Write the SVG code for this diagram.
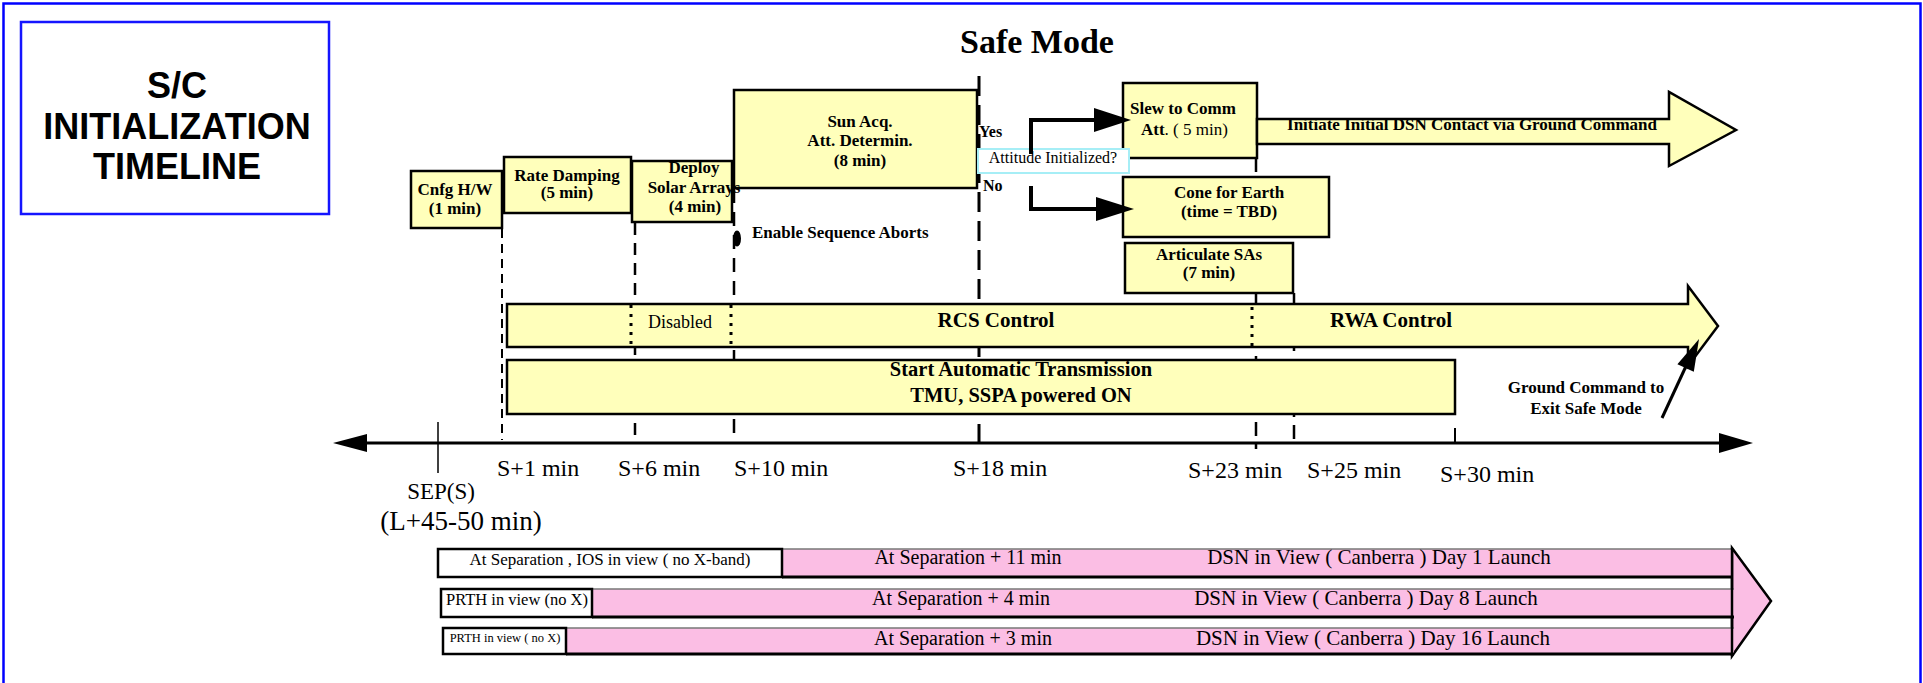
<svg xmlns="http://www.w3.org/2000/svg" width="1923" height="683" viewBox="0 0 1923 683">
<style>
.box{fill:#FFFFBB;stroke:#000;stroke-width:2.5}
.tb{font-family:"Liberation Serif",serif;font-weight:bold;font-size:17px;text-anchor:middle;fill:#000}
.tn{font-family:"Liberation Serif",serif;font-size:17px;text-anchor:middle;fill:#000}
.ax{font-family:"Liberation Serif",serif;font-size:24px;fill:#000}
.ttl{font-family:"Liberation Sans",Arial,sans-serif;font-weight:bold;font-size:36px;text-anchor:middle;fill:#000}
.dsh{stroke:#000;fill:none}
.dot{stroke:#000;stroke-width:3;stroke-dasharray:3 6;fill:none}
.pink{fill:#FBBEE4}
.wbox{fill:#fff;stroke:#000;stroke-width:2.5}
.con{stroke:#000;stroke-width:4;fill:none}
</style>
<rect width="1923" height="683" fill="#fff"/>
<rect x="3.5" y="3.5" width="1917" height="700" fill="none" stroke="#0000FF" stroke-width="2.5"/>

<g id="title">
<rect x="21" y="22" width="308" height="192" fill="#fff" stroke="#1515FF" stroke-width="2.5"/>
<text x="177" y="98" class="ttl">S/C</text>
<text x="177" y="139" class="ttl">INITIALIZATION</text>
<text x="177" y="179" class="ttl">TIMELINE</text>
</g>

<g id="safe-mode-title">
<text x="1037" y="53" class="tb" style="font-size:34px">Safe Mode</text>
</g>

<g id="timeline-markers">
<line x1="502" y1="229" x2="502" y2="440" class="dsh" stroke-width="2" stroke-dasharray="9 6"/>
<line x1="635" y1="223" x2="635" y2="443" class="dsh" stroke-width="2.5" stroke-dasharray="12 8"/>
<line x1="734" y1="189" x2="734" y2="443" class="dsh" stroke-width="2.5" stroke-dasharray="14 9"/>
<line x1="979" y1="76" x2="979" y2="443" class="dsh" stroke-width="3" stroke-dasharray="20 9"/>
<line x1="1256" y1="158" x2="1256" y2="449" class="dsh" stroke-width="2.5" stroke-dasharray="14 8"/>
<line x1="1294" y1="293" x2="1294" y2="447" class="dsh" stroke-width="2.5" stroke-dasharray="14 8"/>
<line x1="1455" y1="428" x2="1455" y2="443" stroke="#000" stroke-width="2"/>
<line x1="438" y1="422" x2="438" y2="473" stroke="#000" stroke-width="1.5"/>
</g>

<g id="cnfg-hw">
<rect x="411" y="171" width="91" height="57" class="box"/>
<text x="455" y="195" class="tb">Cnfg H/W</text>
<text x="455" y="214" class="tb">(1 min)</text>
</g>

<g id="rate-damping">
<rect x="504" y="157" width="127" height="56" class="box"/>
<text x="567" y="181" class="tb">Rate Damping</text>
<text x="567" y="198" class="tb">(5 min)</text>
</g>

<g id="sun-acq">
<rect x="734" y="90" width="243" height="98" class="box"/>
<text x="860" y="127" class="tb">Sun Acq.</text>
<text x="860" y="146" class="tb">Att. Determin.</text>
<text x="860" y="166" class="tb">(8 min)</text>
</g>

<g id="deploy-solar-arrays">
<rect x="632" y="161" width="100" height="61" class="box"/>
<text x="694" y="173" class="tb">Deploy</text>
<text x="694" y="193" class="tb">Solar Arrays</text>
<text x="695" y="212" class="tb">(4 min)</text>
</g>

<g id="enable-sequence-aborts">
<ellipse cx="737" cy="238.5" rx="4" ry="8" fill="#000"/>
<text x="752" y="238" class="tb" style="text-anchor:start">Enable Sequence Aborts</text>
</g>

<g id="slew-to-comm">
<rect x="1123" y="83" width="134" height="75" class="box"/>
<text x="1183" y="114" class="tb">Slew to Comm</text>
<text x="1141" y="135" class="tn" style="text-anchor:start"><tspan font-weight="bold">Att</tspan>. ( 5 min)</text>
</g>

<g id="cone-for-earth">
<rect x="1123" y="177" width="206" height="60" class="box"/>
<text x="1229" y="198" class="tb">Cone for Earth</text>
<text x="1229" y="217" class="tb">(time = TBD)</text>
</g>

<g id="articulate-sas">
<rect x="1125" y="243" width="168" height="50" class="box"/>
<text x="1209" y="260" class="tb">Articulate SAs</text>
<text x="1209" y="278" class="tb">(7 min)</text>
</g>

<g id="attitude-initialized">
<rect x="978" y="149" width="151" height="24" fill="#fff" stroke="#A6EEF6" stroke-width="2"/>
<text x="1053" y="163" class="tn" style="font-size:16px">Attitude Initialized?</text>
<text x="979" y="137" class="tb" style="font-size:16px;text-anchor:start">Yes</text>
<text x="983" y="191" class="tb" style="font-size:16px;text-anchor:start">No</text>
</g>

<g id="initiate-dsn-contact">
<polygon points="1257,119 1669,119 1669,92 1736,130 1669,166 1669,144 1257,144" class="box" stroke-width="3"/>
<text x="1472" y="130" class="tb">Initiate Initial DSN Contact via Ground Command</text>
</g>

<g id="rcs-rwa-control">
<polygon points="507,304 1688,304 1688,286 1718,326 1688,366 1688,347 507,347" class="box" stroke-width="3"/>
<line x1="631" y1="305" x2="631" y2="348" class="dot"/>
<line x1="731" y1="305" x2="731" y2="346" class="dot"/>
<line x1="1252" y1="307" x2="1252" y2="346" class="dot"/>
<text x="680" y="328" class="tn" style="font-size:18px">Disabled</text>
<text x="996" y="327" class="tb" style="font-size:21px">RCS Control</text>
<text x="1391" y="327" class="tb" style="font-size:21px">RWA Control</text>
</g>

<g id="automatic-transmission">
<rect x="507" y="360" width="948" height="54" class="box" stroke-width="3"/>
<text x="1021" y="376" class="tb" style="font-size:20.5px">Start Automatic Transmission</text>
<text x="1021" y="402" class="tb" style="font-size:20.5px">TMU, SSPA powered ON</text>
</g>

<g id="ground-command-label">
<text x="1586" y="393" class="tb">Ground Command to</text>
<text x="1586" y="414" class="tb">Exit Safe Mode</text>
</g>

<g id="time-axis">
<line x1="365" y1="443" x2="1721" y2="443" stroke="#000" stroke-width="3"/>
<polygon points="333,443 367,434 367,452" fill="#000"/>
<polygon points="1753,443 1719,433 1719,453" fill="#000"/>
<text x="497" y="476" class="ax">S+1 min</text>
<text x="618" y="476" class="ax">S+6 min</text>
<text x="734" y="476" class="ax">S+10 min</text>
<text x="953" y="476" class="ax">S+18 min</text>
<text x="1188" y="478" class="ax">S+23 min</text>
<text x="1307" y="478" class="ax">S+25 min</text>
<text x="1440" y="482" class="ax">S+30 min</text>
<text x="441" y="499" class="ax" style="font-size:23px;text-anchor:middle">SEP(S)</text>
<text x="461" y="530" class="ax" style="font-size:27px;text-anchor:middle">(L+45-50 min)</text>
</g>

<g id="connectors">
<polyline points="1031,154 1031,120 1098,120" class="con"/>
<polygon points="1094,108 1131,120 1094,132" fill="#000"/>
<polyline points="1031,186 1031,209 1100,209" class="con"/>
<polygon points="1096,197 1134,209 1096,221" fill="#000"/>
<line x1="1662" y1="418" x2="1687" y2="364" stroke="#000" stroke-width="3"/>
<polygon points="1699,339 1677.4,364.2 1693.8,371.8" fill="#000"/>
</g>

<g id="dsn-view-rows">
<polygon points="1732,548 1771,601 1732,656" class="pink" stroke="#000" stroke-width="2.5"/>
<g id="row-day1">
<rect x="782" y="549" width="950" height="28" class="pink"/>
<line x1="782" y1="549" x2="1732" y2="549" stroke="#777" stroke-width="1.5"/>
<line x1="782" y1="577" x2="1732" y2="577" stroke="#000" stroke-width="3"/>
<rect x="438" y="549" width="344" height="28" class="wbox"/>
<text x="610" y="565" class="tn">At Separation , IOS in view ( no X-band)</text>
<text x="968" y="564" class="tn" style="font-size:20px">At Separation + 11 min</text>
<text x="1379" y="564" class="tn" style="font-size:21px">DSN in View ( Canberra ) Day 1 Launch</text>
</g>
<g id="row-day8">
<rect x="592" y="589" width="1142" height="28" class="pink"/>
<line x1="592" y1="589" x2="1734" y2="589" stroke="#777" stroke-width="1.5"/>
<line x1="592" y1="617" x2="1734" y2="617" stroke="#000" stroke-width="3"/>
<rect x="441" y="589" width="151" height="28" class="wbox"/>
<text x="517" y="605" class="tn" style="font-size:16.5px">PRTH in view (no X)</text>
<text x="961" y="605" class="tn" style="font-size:20px">At Separation + 4 min</text>
<text x="1366" y="605" class="tn" style="font-size:21px">DSN in View ( Canberra ) Day 8 Launch</text>
</g>
<g id="row-day16">
<rect x="566" y="628" width="1168" height="26" class="pink"/>
<line x1="566" y1="628" x2="1734" y2="628" stroke="#777" stroke-width="1.5"/>
<line x1="566" y1="654" x2="1734" y2="654" stroke="#000" stroke-width="3"/>
<rect x="443" y="628" width="123" height="26" class="wbox"/>
<text x="505" y="642" class="tn" style="font-size:12.5px">PRTH in view ( no X)</text>
<text x="963" y="645" class="tn" style="font-size:20px">At Separation + 3 min</text>
<text x="1373" y="645" class="tn" style="font-size:21px">DSN in View ( Canberra ) Day 16 Launch</text>
</g>
<line x1="1732" y1="548" x2="1732" y2="656" stroke="#000" stroke-width="2.5"/>
</g>
</svg>
